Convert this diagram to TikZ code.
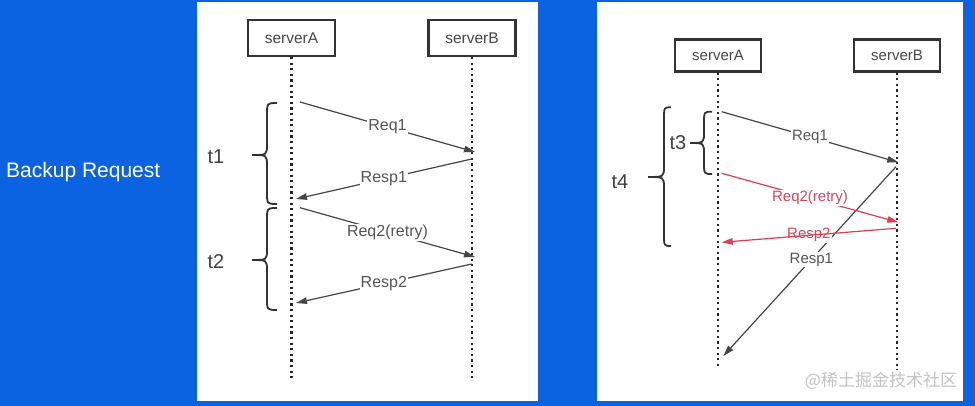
\documentclass[tikz,border=0pt]{standalone}
\usepackage{fontspec}
\setmainfont{Liberation Sans}
\newfontfamily\cjkfont{Noto Sans CJK SC}
\usetikzlibrary{arrows.meta}
\definecolor{bgblue}{RGB}{12,99,226}
\definecolor{linegray}{RGB}{70,70,70}
\definecolor{txtgray}{RGB}{85,85,85}
\definecolor{redline}{RGB}{226,60,80}
\definecolor{redtxt}{RGB}{214,70,90}
\definecolor{wm}{RGB}{195,195,195}
\newcommand{\cbrace}[6]{%
 \draw[brc] (#1,#4) .. controls (#2,#4) .. (#2,#4+12) -- (#2,#5-11) .. controls (#2,#5) .. (#3,#5) .. controls (#2,#5) .. (#2,#5+11) -- (#2,#6-12) .. controls (#2,#6) .. (#1,#6);}
\begin{document}
\begin{tikzpicture}[x=1pt,y=-1pt,
  server/.style={draw=black!80, line width=2.2pt, minimum width=87pt, minimum height=36pt, fill=white, font=\fontsize{15.5}{15.5}\selectfont, text=black!72, inner sep=0pt},
  serverr/.style={server, minimum width=86pt, minimum height=32pt, font=\fontsize{15}{15}\selectfont},
  lifeline/.style={line width=2.4pt, black!85, dash pattern=on 2.2pt off 3.4pt},
  msg/.style={line width=1.2pt, linegray, -{Triangle[length=11pt,width=6.5pt]}},
  msgred/.style={msg, redline},
  lbl/.style={fill=white, inner sep=1pt, text=txtgray, font=\fontsize{16}{16}\selectfont},
  lblr/.style={lbl, font=\fontsize{15}{15}\selectfont},
  lblred/.style={lblr, text=redtxt},
  brc/.style={line width=1.8pt, black!80},
  tlbl/.style={font=\fontsize{20}{20}\selectfont, text=black!75, inner sep=0pt}
]
\fill[bgblue] (0,0) rectangle (975,406);
\useasboundingbox (0,0) rectangle (975,406);
\fill[white] (197,2) rectangle (538,401);
\fill[white] (597,2) rectangle (963,401);

\node[text=white, font=\fontsize{21}{21}\selectfont, anchor=west, inner sep=0pt] (title) at (6,172) {Backup Request};

% ---------- left panel ----------
\node[server] (la) at (291.5,38) {serverA};
\node[server] (lb) at (472,38) {serverB};
\coordinate (laend) at (291.5,378);
\coordinate (lbend) at (472,378);
\draw[lifeline] (la.south) -- (laend);
\draw[lifeline] (lb.south) -- (lbend);

\coordinate (l1s) at (300,102);   \coordinate (l1e) at (475,152);
\coordinate (l2s) at (471.7,159); \coordinate (l2e) at (296,199);
\coordinate (l3s) at (300,207.7); \coordinate (l3e) at (475,257);
\coordinate (l4s) at (471.7,264); \coordinate (l4e) at (296,303);
\draw[msg] (l1s) -- node[lbl] (lreq1) {Req1} (l1e);
\draw[msg] (l2s) -- node[lbl] (lresp1) {Resp1} (l2e);
\draw[msg] (l3s) -- node[lbl] (lreq2) {Req2(retry)} (l3e);
\draw[msg] (l4s) -- node[lbl] (lresp2) {Resp2} (l4e);

\cbrace{277}{267}{252}{103}{155}{204}
\cbrace{277}{267}{252}{208}{260}{310}
\node[tlbl] (t1) at (216,157) {t1};
\node[tlbl] (t2) at (216,262) {t2};

% ---------- right panel ----------
\node[serverr] (ra) at (718,55.5) {serverA};
\node[serverr] (rb) at (897,55.5) {serverB};
\coordinate (raend) at (718,369);
\coordinate (rbend) at (897,370);
\draw[lifeline] (ra.south) -- (raend);
\draw[lifeline] (rb.south) -- (rbend);

\coordinate (r1s) at (721.7,111.7); \coordinate (r1e) at (898.3,162.3);
\coordinate (r2s) at (721.7,173.3); \coordinate (r2e) at (898.3,222.3);
\coordinate (r3s) at (896,166.7);   \coordinate (r3e) at (723.3,356);
\coordinate (r4s) at (896,228.3);   \coordinate (r4e) at (721.7,242.3);
\draw[msg] (r1s) -- node[lblr] (rreq1) {Req1} (r1e);
\draw[msg] (r3s) -- node[lblr, pos=0.49] (rresp1) {Resp1} (r3e);
\draw[msgred] (r2s) -- node[lblred] (rreq2) {Req2(retry)} (r2e);
\path (r4s) -- node[lblred] (rresp2) {Resp2} (r4e);
\draw[msgred] (r4s) -- (r4e);

\cbrace{712}{704}{690}{111.7}{143}{174}
\cbrace{671}{664}{648}{107.3}{177}{246}
\node[tlbl] (t3) at (678,143) {t3};
\node[tlbl] (t4) at (620,182) {t4};

\node[text=wm, font=\cjkfont\fontsize{17}{17}\selectfont, inner sep=0pt] (wmk) at (881,381) {@稀土掘金技术社区};
\end{tikzpicture}
\end{document}
